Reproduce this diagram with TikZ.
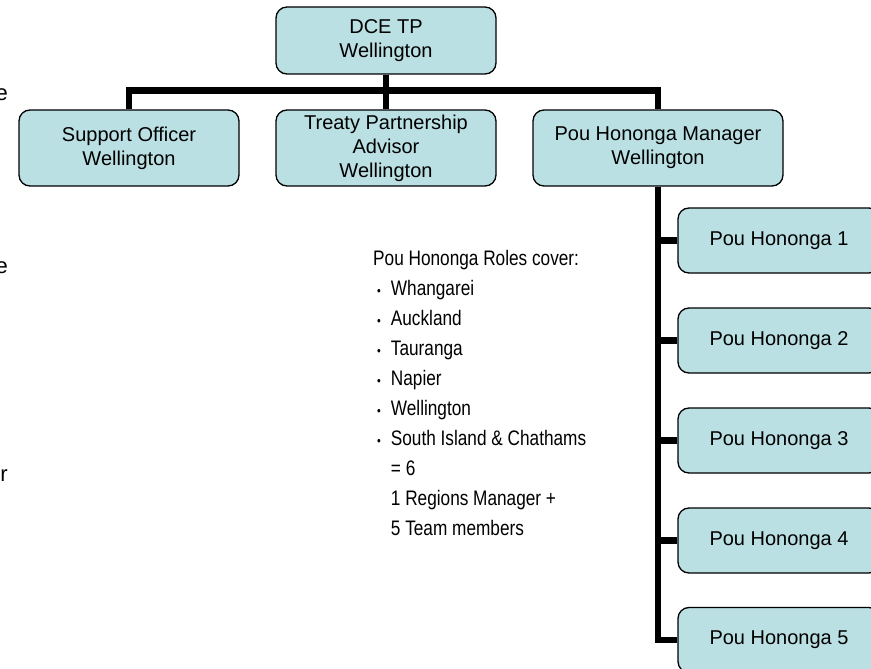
\documentclass[tikz,border=0pt]{standalone}
\usepackage{fontspec}
\setmainfont{Liberation Sans}
\newfontfamily\notefont[FakeStretch=0.82]{Liberation Sans}
\definecolor{boxfill}{RGB}{186,224,228}

\begin{document}
\begin{tikzpicture}[x=1pt,y=-1pt,
  orgbox/.style={draw=black, line width=1.3pt, fill=boxfill,
    rounded corners=11pt, align=center, inner sep=0pt,
    font=\fontsize{20}{24}\selectfont},
  topbox/.style={orgbox, minimum width=220pt, minimum height=76pt},
  poubox/.style={orgbox, minimum width=202pt, minimum height=65pt},
  link/.style={draw=black, line width=6.5pt, line join=miter},
  edgetext/.style={font=\fontsize{22}{22}\selectfont, inner sep=0pt, anchor=base east}
]
\useasboundingbox (0,0) rectangle (871,669);
\clip (0,0) rectangle (871,669);

% letters of text cut off at the left edge
\node[edgetext] (cut1) at (8,101) {e};
\node[edgetext] (cut2) at (8,273) {e};
\node[edgetext] (cut3) at (8,481) {r};

% boxes
\node[orgbox, minimum width=220pt, minimum height=67pt] (dce) at (386,40.5) {DCE TP\\Wellington};
\node[topbox] (sup) at (129,148) {Support Officer\\Wellington};
\node[topbox] (tpa) at (386,148) {Treaty Partnership\\Advisor\\Wellington};
\node[topbox, minimum width=250pt] (mgr) at (658,148) {Pou Hononga Manager\\Wellington};

\node[poubox] (p1) at (779,240.5) {Pou Hononga 1};
\node[poubox] (p2) at (779,340.5) {Pou Hononga 2};
\node[poubox] (p3) at (779,440.5) {Pou Hononga 3};
\node[poubox] (p4) at (779,540.5) {Pou Hononga 4};
\node[poubox] (p5) at (779,640) {Pou Hononga 5};

% reporting lines
\coordinate (bus) at (0,90.5);
\draw[link] (dce.south) -- (dce.south |- bus);
\draw[link] (sup.north) -- (sup.north |- bus) -| (mgr.north);
\draw[link] (tpa.north) -- (tpa.north |- bus);
\draw[link] (mgr.south) -- (mgr.south |- p5.west) -- (p5.west);
\foreach \p in {p1,p2,p3,p4}
  \draw[link] (mgr.south |- \p.west) -- (\p.west);

% note on the regions covered
\newcommand{\blt}{\hspace{4pt}{\fontsize{13}{13}\selectfont •}}
\node[anchor=north west, inner sep=0pt, font=\notefont\fontsize{21}{30}\selectfont] (roles) at (373,244)
{\begin{tabular}{@{}l@{\hspace{10pt}}l@{}}
\multicolumn{2}{@{}l}{Pou Hononga Roles cover:}\\
\blt & Whangarei\\
\blt & Auckland\\
\blt & Tauranga\\
\blt & Napier\\
\blt & Wellington\\
\blt & South Island \& Chathams\\
 & = 6\\
 & 1 Regions Manager +\\
 & 5 Team members
\end{tabular}};
\end{tikzpicture}
\end{document}
